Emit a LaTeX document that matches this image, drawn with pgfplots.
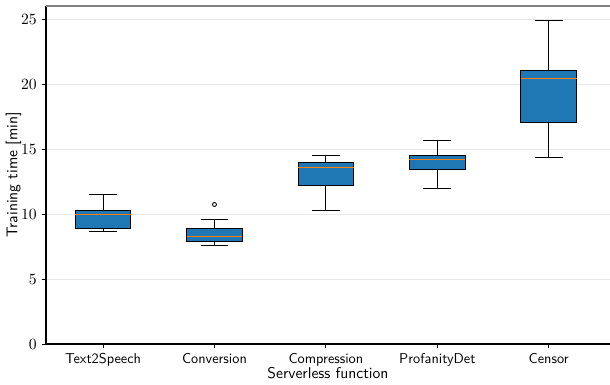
\documentclass[border=0pt]{standalone}
\usepackage{pgfplots}
\pgfplotsset{compat=1.18}
\usepgfplotslibrary{statistics}
\definecolor{mplblue}{HTML}{1F77B4}
\definecolor{mplorange}{HTML}{FF7F0E}
\begin{document}
\begin{tikzpicture}
\begin{axis}[
  at={(0,0)}, anchor=south west,
  scale only axis,
  width=394.8pt, height=236.6pt,
  xmin=0.488, xmax=5.55, ymin=0, ymax=26.05,
  axis lines*=left,
  axis line style={black, line width=0.8pt},
  xtick={1,2,3,4,5},
  xticklabels={Text2Speech,Conversion,Compression,ProfanityDet,Censor},
  xticklabel style={font=\sffamily},
  yticklabel style={font=\fontsize{11}{13}\selectfont},
  ytick={0,5,10,15,20,25},
  ymajorgrids,
  grid style={gray!18, line width=0.6pt},
  tick align=outside,
  major tick length=3pt,
  tick style={black, line width=0.6pt},
  xlabel={Serverless function},
  ylabel={Training time [min]},
  label style={font=\sffamily\fontsize{10.9}{13}\selectfont},
  xlabel style={yshift=6pt},
  ylabel style={yshift=-7pt},
  boxplot/draw direction=y,
]
\addplot+[boxplot prepared={draw position=1, box extend=0.5, whisker extend=0.25,
  lower whisker=8.64, lower quartile=8.9, median=10.0, upper quartile=10.28, upper whisker=11.56},
  draw=black, fill=mplblue, line width=0.7pt, solid, mark=none,
  boxplot/every median/.style={draw=mplorange, line width=0.6pt}]
  table[row sep=\\, y index=0] {data\\};
\addplot+[boxplot prepared={draw position=2, box extend=0.5, whisker extend=0.25,
  lower whisker=7.56, lower quartile=7.9, median=8.26, upper quartile=8.87, upper whisker=9.59},
  draw=black, fill=mplblue, line width=0.7pt, solid, mark=o, mark size=1.4pt,
  mark options={draw=black, fill=white, line width=0.6pt},
  boxplot/every median/.style={draw=mplorange, line width=0.6pt}]
  table[row sep=\\, y index=0] {data\\10.75\\};
\addplot+[boxplot prepared={draw position=3, box extend=0.5, whisker extend=0.25,
  lower whisker=10.28, lower quartile=12.25, median=13.6, upper quartile=14.0, upper whisker=14.49},
  draw=black, fill=mplblue, line width=0.7pt, solid, mark=none,
  boxplot/every median/.style={draw=mplorange, line width=0.6pt}]
  table[row sep=\\, y index=0] {data\\};
\addplot+[boxplot prepared={draw position=4, box extend=0.5, whisker extend=0.25,
  lower whisker=11.95, lower quartile=13.44, median=14.2, upper quartile=14.56, upper whisker=15.67},
  draw=black, fill=mplblue, line width=0.7pt, solid, mark=none,
  boxplot/every median/.style={draw=mplorange, line width=0.6pt}]
  table[row sep=\\, y index=0] {data\\};
\addplot+[boxplot prepared={draw position=5, box extend=0.5, whisker extend=0.25,
  lower whisker=14.41, lower quartile=17.08, median=20.5, upper quartile=21.1, upper whisker=24.92},
  draw=black, fill=mplblue, line width=0.7pt, solid, mark=none,
  boxplot/every median/.style={draw=mplorange, line width=0.6pt}]
  table[row sep=\\, y index=0] {data\\};
\draw[gray, line width=0.8pt] (rel axis cs:0,1) -- (rel axis cs:1,1);
\end{axis}
\pgfresetboundingbox
\path (-32.2pt,-28.7pt) rectangle (394.8pt,240.8pt);
\end{tikzpicture}
\end{document}
